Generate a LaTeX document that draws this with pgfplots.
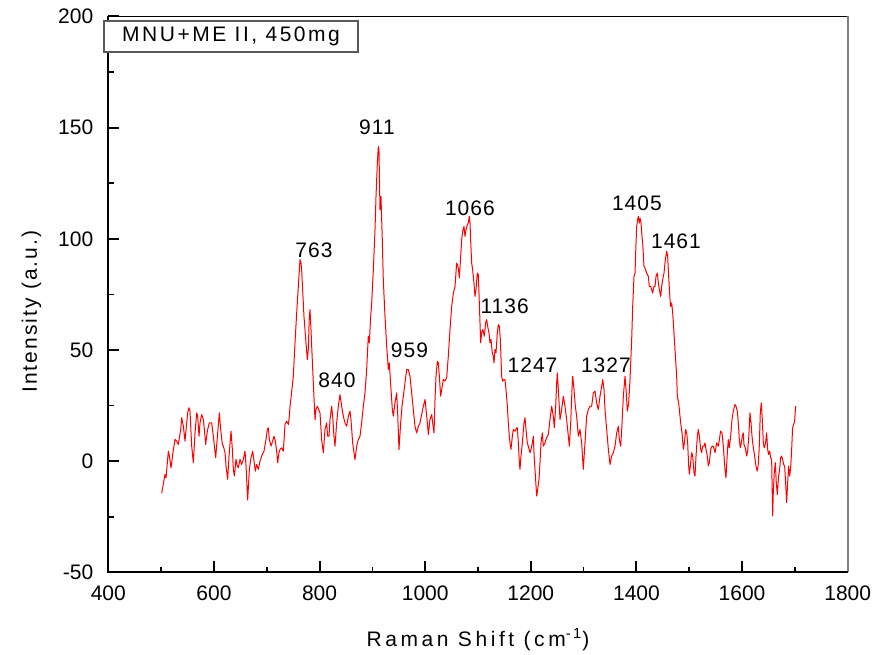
\documentclass[border=0pt]{standalone}
\usepackage{pgfplots}
\pgfplotsset{compat=1.18}
\usepackage{fontspec}
\setmainfont{Liberation Sans}
\newfontfamily\xlabfont[LetterSpace=17]{Liberation Sans}
\newfontfamily\ylabfont[LetterSpace=10]{Liberation Sans}
\newfontfamily\boxfont[LetterSpace=12]{Liberation Sans}
\newfontfamily\peakfont[LetterSpace=5]{Liberation Sans}
\newcommand{\fsz}{\fontsize{10.5}{12.6}\selectfont}
\begin{document}
\begin{tikzpicture}
\begin{axis}[
  scale only axis,
  width=369.7pt, height=277.9pt,
  xmin=400, xmax=1800, ymin=-50, ymax=200,
  xtick={400,600,...,1800}, ytick={-50,0,...,200},
  minor x tick num=1, minor y tick num=1,
  tick align=inside, xtick pos=bottom, ytick pos=left,
  major tick length=5.5pt, minor tick length=2.8pt,
  major tick style={black, line width=1pt},
  minor tick style={black, line width=0.8pt},
  axis line style={draw=none},
  /pgf/number format/assume math mode=true,
  /pgf/number format/1000 sep={},
  ticklabel style={font=\fsz},
  xticklabel style={yshift=-3pt},
  yticklabel style={xshift=-4pt},
  xlabel={\xlabfont\fsz Raman Shift (cm\textsuperscript{-1})},
  ylabel={\ylabfont\fsz Intensity (a.u.)},
  xlabel style={at={(axis description cs:0.5,-0.121)}, anchor=center},
  ylabel style={at={(axis description cs:-0.104,0.469)}, anchor=center},
  clip=false,
]
\addplot[red, line width=0.5pt, line join=round] coordinates {
(501.1,-14.5)(507.4,-6.0)(509.3,-7.5)(513.7,4.5)(515.6,2.3)(518.8,-3.0)(521.9,3.0)(526.3,9.8)(529.5,9.0)(532.6,7.5)(537.1,14.2)(539.0,19.5)(542.1,15.7)(545.3,9.0)(547.2,14.2)(550.3,21.7)(552.8,24.0)(554.7,22.5)(557.9,6.8)(561.0,-0.7)(564.2,12.7)(567.4,21.7)(569.2,20.2)(571.8,11.2)(573.7,17.2)(576.8,21.0)(580.0,18.7)(581.9,14.2)(584.4,7.5)(587.5,13.5)(591.3,17.2)(595.8,17.2)(598.9,11.2)(603.3,1.5)(607.1,12.7)(610.3,21.7)(612.8,14.2)(615.9,7.5)(617.8,6.8)(621.0,3.8)(622.9,-2.2)(626.0,-8.2)(628.6,2.3)(632.4,13.5)(634.9,5.3)(636.8,-3.7)(638.7,-6.7)(641.8,0.8)(644.3,-2.2)(646.2,-3.0)(649.4,0.8)(652.5,-1.5)(655.7,0.8)(658.9,4.5)(660.8,-2.2)(663.9,-17.5)(667.1,-3.7)(670.2,1.5)(673.4,4.5)(675.9,0.0)(678.4,-4.5)(681.0,-1.5)(684.1,-3.7)(687.3,0.0)(690.4,2.3)(694.8,4.5)(698.6,9.8)(701.1,14.2)(703.0,15.0)(704.9,9.8)(708.1,6.8)(711.2,9.0)(713.8,11.2)(716.3,9.0)(718.8,4.5)(720.7,-0.7)(723.2,3.8)(725.1,5.3)(728.3,6.0)(731.4,4.5)(734.6,16.5)(737.8,18.0)(740.9,16.5)(742.8,20.2)(744.1,24.7)(746.0,28.5)
(750.3,38.2)(753.5,53.2)(756.7,66.6)(759.8,78.6)(763.0,90.6)(764.9,89.1)(766.1,86.1)(768.0,77.1)(770.5,65.1)(772.4,59.2)(774.3,53.2)(776.9,45.7)(778.7,50.2)(780.6,65.1)(781.9,68.1)(783.8,59.2)(785.1,51.7)(788.2,35.2)(791.4,18.7)(793.3,23.2)(795.8,24.7)(798.3,23.2)(800.8,21.7)(804.0,9.7)(807.1,3.7)(810.3,14.2)(813.5,17.2)(815.3,11.2)(817.9,11.2)(819.8,18.7)(822.9,24.7)(824.8,20.2)(827.3,11.2)(829.2,6.7)(832.4,17.2)(835.5,24.7)(838.7,29.9)(841.9,24.7)(845.0,20.2)(848.2,17.2)(851.3,15.7)(854.5,20.2)(857.6,22.5)(859.5,18.7)(862.7,8.2)(865.2,3.7)(867.1,0.7)(870.3,6.7)(873.4,9.7)(876.6,11.2)(879.7,17.2)(882.9,24.7)(886.0,30.7)(889.2,41.2)(892.3,56.2)(894.2,53.2)(896.8,65.1)(898.7,71.1)(901.8,86.1)(905.0,104.1)(906.9,119.1)(909.4,134.0)(911.3,141.5)(912.5,140.0)(914.4,113.1)(916.3,119.1)(918.8,99.6)(920.7,81.6)(923.9,65.1)(927.1,51.7)(930.2,41.2)(932.1,44.2)(935.3,32.2)(937.8,23.2)(939.7,20.2)(942.8,26.2)(946.0,30.7)(947.9,21.7)(950.4,5.2)(953.6,17.2)(956.1,24.7)(958.6,29.2)(961.8,35.2)(964.9,41.2)(968.1,41.2)(971.2,38.2)(974.4,30.7)(977.5,23.2)(980.7,15.7)(983.9,12.7)(987.0,15.7)(990.2,17.2)
(993.4,21.0)(996.5,24.7)(999.7,27.7)(1001.6,23.2)(1004.1,17.2)(1006.0,12.0)(1009.1,18.7)(1012.3,21.0)(1014.2,17.2)(1016.7,12.7)(1018.6,27.7)(1020.5,38.2)(1023.0,44.9)(1024.9,44.2)(1026.8,38.2)(1029.3,29.2)(1031.2,32.2)(1034.4,36.7)(1037.5,36.0)(1040.7,37.5)(1043.8,47.2)(1047.0,59.2)(1050.2,69.6)(1053.3,75.6)(1056.5,78.6)(1059.6,89.1)(1062.8,86.9)(1064.7,82.4)(1067.2,92.1)(1069.1,99.6)(1071.0,103.3)(1073.5,105.6)(1075.4,101.1)(1077.3,104.1)(1079.8,106.3)(1081.7,107.1)(1083.6,110.1)(1084.9,107.1)(1086.1,99.6)(1088.0,89.1)(1089.9,86.1)(1092.4,80.1)(1094.3,74.1)(1096.2,77.1)(1098.7,84.6)(1100.6,83.9)(1102.5,71.2)(1105.1,53.2)(1106.9,57.7)(1108.8,59.2)(1110.1,58.4)(1112.0,56.2)(1114.5,62.2)(1116.4,63.7)(1118.3,60.7)(1120.8,57.7)(1122.7,53.2)(1124.6,54.7)(1127.1,48.7)(1129.0,47.2)(1130.3,44.2)(1132.2,50.2)(1134.1,48.7)(1136.6,57.7)(1138.5,61.4)(1140.4,60.7)(1142.3,54.7)(1144.8,38.2)(1146.7,36.0)(1149.2,36.7)(1151.1,36.7)(1153.0,32.2)(1155.6,24.7)(1157.4,17.2)(1159.3,11.2)(1160.6,8.2)(1162.5,5.3)(1165.0,11.2)(1166.9,14.2)(1170.1,13.5)(1173.2,15.0)(1174.5,15.0)(1176.4,8.2)(1178.3,-0.7)(1179.5,-3.7)(1181.4,2.3)(1184.0,8.2)(1187.1,17.2)(1189.0,19.5)(1190.9,14.2)(1193.4,8.2)(1195.3,6.7)(1198.5,3.8)(1200.4,5.3)(1202.9,8.2)(1204.8,11.2)(1206.0,3.8)(1207.9,-3.7)(1211.1,-15.7)(1213.0,-12.7)(1215.5,-8.2)(1217.4,-0.7)(1219.3,8.2)(1221.8,12.7)(1223.7,6.7)(1226.9,8.2)(1228.8,9.7)(1231.3,11.2)(1233.2,12.0)(1236.3,18.7)(1239.5,24.7)(1242.6,20.2)(1244.5,15.0)(1247.1,24.7)(1249.0,35.2)(1250.2,39.7)(1252.1,32.2)(1255.3,18.7)(1258.4,23.2)(1261.6,29.2)(1264.7,24.7)(1267.9,18.7)(1269.8,14.2)(1272.9,6.7)(1275.5,17.2)(1278.0,32.2)(1279.3,38.2)(1281.8,32.2)(1284.3,24.7)(1286.8,20.2)(1290.0,11.2)(1293.1,14.2)(1296.3,8.2)(1299.4,-3.7)(1302.6,8.2)(1305.7,20.2)(1308.9,23.2)(1312.1,24.7)(1315.2,24.7)(1318.4,30.7)(1321.5,31.5)(1324.7,26.2)(1327.8,23.2)
(1331.0,29.2)(1334.2,33.7)(1336.1,36.7)(1338.6,32.2)(1340.5,23.2)(1343.7,14.2)(1346.8,5.3)(1350.0,-1.5)(1353.1,2.3)(1356.3,3.8)(1359.4,6.7)(1362.6,12.7)(1365.7,15.7)(1367.6,9.7)(1370.2,6.7)(1372.1,14.2)(1375.2,29.2)(1378.4,38.2)(1380.3,32.2)(1382.8,22.5)(1385.3,26.2)(1387.8,36.7)(1391.0,54.7)(1392.9,69.6)(1395.4,83.1)(1397.3,84.6)(1399.2,98.1)(1400.5,105.6)(1402.3,108.6)(1403.6,110.1)(1405.5,107.1)(1406.8,109.3)(1408.7,107.1)(1410.5,101.1)(1411.8,98.1)(1414.3,87.6)(1416.2,86.9)(1419.4,84.6)(1422.5,83.1)(1424.4,78.6)(1427.0,78.6)(1428.9,77.1)(1430.7,75.6)(1433.3,78.6)(1435.2,78.6)(1437.1,83.1)(1439.6,84.6)(1441.5,80.1)(1443.4,77.1)(1445.9,74.1)(1447.8,78.6)(1449.7,81.6)(1452.2,84.6)(1454.7,90.6)(1457.3,94.4)(1459.1,92.1)(1461.0,83.1)(1463.6,72.7)(1464.8,69.6)(1466.7,71.1)(1468.6,66.7)(1469.9,62.2)(1473.0,50.2)(1476.2,38.2)(1477.4,29.2)(1480.0,26.2)(1482.5,20.2)(1483.8,17.2)(1486.3,12.7)(1488.8,5.3)(1490.7,8.2)(1493.2,14.2)(1495.1,12.7)(1497.0,8.2)(1498.9,-2.2)(1500.2,-5.9)(1502.7,-0.7)(1504.6,3.8)(1506.5,2.3)(1509.0,-5.2)(1510.9,-6.7)(1512.8,2.3)(1515.3,11.2)(1517.2,14.2)(1519.1,11.2)(1521.6,5.3)(1523.5,3.8)(1525.4,6.7)(1527.9,6.7)(1529.8,8.2)(1531.7,5.3)(1534.2,2.3)(1536.1,-2.2)(1538.0,-0.7)(1540.6,5.3)(1543.1,6.7)(1545.6,6.7)(1548.8,3.8)(1551.9,8.2)(1555.1,6.7)
(1559.4,13.5)(1562.0,12.7)(1564.5,6.7)(1567.6,-3.7)(1569.5,-7.5)(1572.1,3.8)(1573.9,9.7)(1575.8,6.0)(1578.4,11.2)(1580.9,18.7)(1583.4,22.5)(1586.6,25.5)(1588.5,24.7)(1591.0,22.5)(1592.9,17.2)(1594.8,9.7)(1596.7,6.0)(1598.6,8.2)(1600.4,11.2)(1602.3,12.7)(1603.6,7.5)(1606.1,6.0)(1608.7,2.3)(1610.5,4.5)(1612.4,9.7)(1615.0,21.7)(1616.9,17.2)(1618.8,11.2)(1621.3,6.0)(1623.8,2.3)(1626.3,-2.2)(1628.8,-4.5)(1630.7,-1.5)(1632.6,6.7)(1634.5,21.7)(1636.4,26.2)(1638.3,18.7)(1640.2,8.2)(1642.1,6.0)(1644.6,8.2)(1646.5,12.7)(1648.4,5.3)(1650.3,3.0)(1652.2,4.5)(1654.1,1.5)(1656.0,0.8)(1657.9,-24.7)(1659.1,-14.2)(1661.0,-5.2)(1662.9,-0.7)(1664.8,-9.7)(1666.7,-15.0)(1669.2,-6.7)(1671.1,-3.7)(1673.0,1.5)(1674.9,2.3)(1676.8,0.8)(1678.7,-1.5)(1680.6,-2.2)(1682.5,-9.7)(1684.4,-18.7)(1686.3,-9.7)(1688.2,-2.2)(1690.1,-6.7)(1692.0,-3.0)(1693.9,5.3)(1695.7,15.0)(1697.6,16.5)(1699.5,18.0)(1701.4,24.7)
};
% axis frame
\draw[black, line width=0.5pt] (rel axis cs:0,1) -- (rel axis cs:1,1);
\draw[gray, line width=1pt] (rel axis cs:1,0) -- (rel axis cs:1,1);
\draw[black, line width=1.2pt] (rel axis cs:0,1) -- (rel axis cs:0,0) -- (rel axis cs:1,0);
% peak labels
\begin{scope}[every node/.style={font=\peakfont\fsz, anchor=center, inner sep=0pt}]
\node at (axis cs:789.5,94.7) {763};
\node at (axis cs:908.7,150.1) {911};
\node at (axis cs:833.0,36.5) {840};
\node at (axis cs:970.3,49.7) {959};
\node at (axis cs:1084.8,113.7) {1066};
\node at (axis cs:1150.5,69.7) {1136};
\node at (axis cs:1203.2,43.0) {1247};
\node at (axis cs:1342.3,43.2) {1327};
\node at (axis cs:1401.0,115.8) {1405};
\node at (axis cs:1474.9,98.7) {1461};
\end{scope}
\node[draw=gray!70!black, line width=0.6pt, fill=white, minimum width=127pt, minimum height=15.5pt, inner sep=0pt, font=\boxfont\fsz, anchor=center] at (axis description cs:0.166,0.964) {MNU+ME II, 450mg};
\coordinate (SW) at (rel axis cs:0,0);
\coordinate (NE) at (rel axis cs:1,1);
\end{axis}
\pgfresetboundingbox
\path[use as bounding box] ([xshift=-54.15pt, yshift=-41.35pt]SW) rectangle ([xshift=18.15pt, yshift=8.25pt]NE);
\end{tikzpicture}
\end{document}
